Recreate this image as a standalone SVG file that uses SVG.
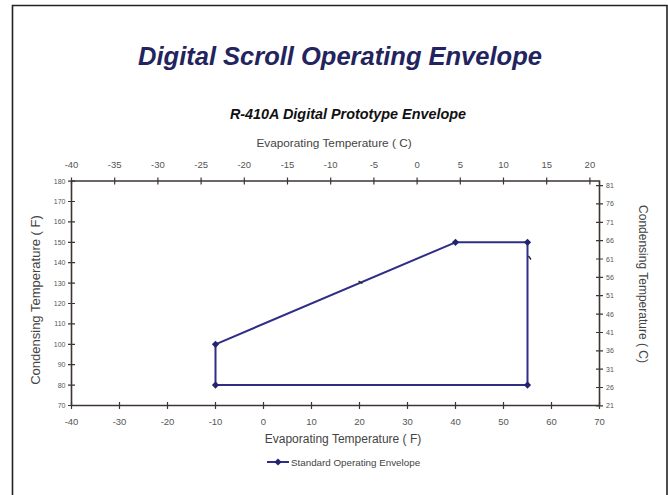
<svg xmlns="http://www.w3.org/2000/svg" xmlns:xlink="http://www.w3.org/1999/xlink" width="668" height="495" viewBox="0 0 668 495">
  <style>
    .title { font-family: "Liberation Sans", Arial, sans-serif; font-weight: bold; font-style: italic; }
    .lbl { font-family: "Liberation Sans", Arial, sans-serif; fill: #444; }
    .tick { font-family: "Liberation Sans", Arial, sans-serif; fill: #555; font-size: 9.5px; text-anchor: middle; }
    .ytick { font-family: "Liberation Sans", Arial, sans-serif; fill: #555; font-size: 7px; }
    .axis { stroke: #3d3434; stroke-width: 1.6; fill: none; }
    .tk { stroke: #3d3434; stroke-width: 1.2; }
    .env { stroke: #2e2e86; stroke-width: 2; fill: none; stroke-linejoin: round; }
    .pt { fill: #24246e; }
  </style>
  <defs>
    <path id="dia" d="M0,-3.6 L3.6,0 L0,3.6 L-3.6,0 Z"/>
  </defs>

  <rect width="668" height="495" fill="#ffffff"/>
  <!-- page frame -->
  <path d="M12.5,495 V5.5 H667 V495" fill="none" stroke="#222" stroke-width="1.6"/>

  <text class="title" x="340" y="65" font-size="25.5" fill="#23235e" text-anchor="middle">Digital Scroll Operating Envelope</text>
  <text class="title" x="348" y="119" font-size="14.4" fill="#111" text-anchor="middle">R-410A Digital Prototype Envelope</text>

  <!-- axes -->
  <g id="axes">
    <path class="axis" d="M71.5,181 H599.5 V405.5 H71.5 Z"/>
    <g class="tk">
      <!-- bottom ticks (F) -->
      <path d="M71.5,402V409M119.5,402V409M167.5,402V409M215.5,402V409M263.5,402V409M311.5,402V409M359.5,402V409M407.5,402V409M455.5,402V409M503.5,402V409M551.5,402V409M599.5,402V409"/>
      <!-- top ticks (C) -->
      <path d="M71.5,177.5V184.5M114.7,177.5V184.5M157.9,177.5V184.5M201.1,177.5V184.5M244.3,177.5V184.5M287.5,177.5V184.5M330.7,177.5V184.5M373.9,177.5V184.5M417.1,177.5V184.5M460.3,177.5V184.5M503.5,177.5V184.5M546.7,177.5V184.5M589.9,177.5V184.5"/>
      <!-- left ticks (F) -->
      <path d="M68,405.5H75M68,385.1H75M68,364.7H75M68,344.3H75M68,323.9H75M68,303.5H75M68,283.1H75M68,262.7H75M68,242.3H75M68,221.9H75M68,201.5H75M68,181.1H75"/>
      <!-- right ticks (C) -->
      <path d="M596,405.9H603M596,387.5H603M596,369.2H603M596,350.8H603M596,332.5H603M596,314.1H603M596,295.7H603M596,277.4H603M596,259H603M596,240.7H603M596,222.3H603M596,203.9H603M596,185.6H603"/>
    </g>

    <g class="tick">
      <text x="71.5" y="168">-40</text><text x="114.7" y="168">-35</text><text x="157.9" y="168">-30</text>
      <text x="201.1" y="168">-25</text><text x="244.3" y="168">-20</text><text x="287.5" y="168">-15</text>
      <text x="330.7" y="168">-10</text><text x="373.9" y="168">-5</text><text x="417.1" y="168">0</text>
      <text x="460.3" y="168">5</text><text x="503.5" y="168">10</text><text x="546.7" y="168">15</text>
      <text x="589.9" y="168">20</text>
    </g>
    <g class="tick">
      <text x="71.5" y="424.5">-40</text><text x="119.5" y="424.5">-30</text><text x="167.5" y="424.5">-20</text>
      <text x="215.5" y="424.5">-10</text><text x="263.5" y="424.5">0</text><text x="311.5" y="424.5">10</text>
      <text x="359.5" y="424.5">20</text><text x="407.5" y="424.5">30</text><text x="455.5" y="424.5">40</text>
      <text x="503.5" y="424.5">50</text><text x="551.5" y="424.5">60</text><text x="599.5" y="424.5">70</text>
    </g>
    <g class="ytick" text-anchor="end">
      <text x="65.5" y="408">70</text><text x="65.5" y="387.6">80</text><text x="65.5" y="367.2">90</text>
      <text x="65.5" y="346.8">100</text><text x="65.5" y="326.4">110</text><text x="65.5" y="306">120</text>
      <text x="65.5" y="285.6">130</text><text x="65.5" y="265.2">140</text><text x="65.5" y="244.8">150</text>
      <text x="65.5" y="224.4">160</text><text x="65.5" y="204">170</text><text x="65.5" y="183.6">180</text>
    </g>
    <g class="ytick">
      <text x="606" y="408.4">21</text><text x="606" y="390">26</text><text x="606" y="371.7">31</text>
      <text x="606" y="353.3">36</text><text x="606" y="335">41</text><text x="606" y="316.6">46</text>
      <text x="606" y="298.2">51</text><text x="606" y="279.9">56</text><text x="606" y="261.5">61</text>
      <text x="606" y="243.2">66</text><text x="606" y="224.8">71</text><text x="606" y="206.4">76</text>
      <text x="606" y="188.1">81</text>
    </g>

    <text class="lbl" x="334" y="147" font-size="11.8" text-anchor="middle">Evaporating Temperature ( C)</text>
    <text class="lbl" x="343" y="443" font-size="12" text-anchor="middle">Evaporating Temperature ( F)</text>
    <text class="lbl" font-size="13" text-anchor="middle" transform="translate(39.5,300) rotate(-90)">Condensing Temperature ( F)</text>
    <text class="lbl" font-size="12" text-anchor="middle" transform="translate(639,284) rotate(90)">Condensing Temperature ( C)</text>
  </g>

  <!-- envelope series -->
  <g id="envelope">
    <path class="env" d="M215.5,385.1 V344.3 L455.5,242.3 H527.5 V385.1 Z"/>
    <g class="pt">
      <use xlink:href="#dia" x="215.5" y="385.1"/>
      <use xlink:href="#dia" x="215.5" y="344.3"/>
      <use xlink:href="#dia" x="455.5" y="242.3"/>
      <use xlink:href="#dia" x="527.5" y="242.3"/>
      <use xlink:href="#dia" x="527.5" y="385.1"/>
    </g>
    <!-- small pointer marks on the outline -->
    <path d="M358.5,281 L362.5,283.5 M528.5,256 L531,259.5" stroke="#222" stroke-width="1.3"/>
  </g>

  <!-- legend -->
  <g id="legend">
    <path d="M267,462 H289" stroke="#2e2e86" stroke-width="2"/>
    <use xlink:href="#dia" x="278" y="462" class="pt"/>
    <text class="lbl" x="291" y="465.5" font-size="9.8">Standard Operating Envelope</text>
  </g>
</svg>
